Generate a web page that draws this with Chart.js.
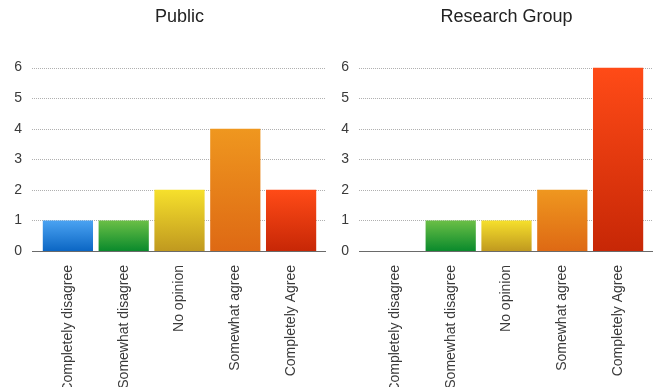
<!DOCTYPE html>
<html>
<head>
<meta charset="utf-8">
<script src="https://cdn.jsdelivr.net/npm/chart.js@4/dist/chart.umd.min.js"></script>
<style>
  body { margin: 0; background: #fff; }
  .wrap { display: flex; width: 654px; height: 387px; overflow: hidden; }
  canvas { display: block; }
</style>
</head>
<body>
<div class="wrap">
  <canvas id="publicChart" width="327" height="387"></canvas>
  <canvas id="groupChart" width="327" height="387"></canvas>
</div>
<script>
var categories = ['Completely disagree', 'Somewhat disagree', 'No opinion', 'Somewhat agree', 'Completely Agree'];
var publicCounts = [1, 1, 2, 4, 2];
var groupCounts = [0, 1, 1, 2, 6];
var yMax = 6;

// top / bottom colour of each bar's gradient
var topColors = ['#4ba3f2', '#6bbf46', '#f6e02c', '#ef971f', '#ff4b17'];
var bottomColors = ['#0b66c4', '#0a8a2c', '#c0991f', '#de6914', '#c72706'];

var font = "'Liberation Sans', Arial, sans-serif";

function barFill(c) {
  var chart = c.chart;
  var i = c.dataIndex;
  if (!chart.chartArea || c.raw === undefined) return topColors[i];
  var y = chart.scales.y;
  var y0 = y.getPixelForValue(0);
  var y1 = y.getPixelForValue(c.raw);
  if (y0 === y1) return topColors[i];
  var g = chart.ctx.createLinearGradient(0, y1, 0, y0);
  g.addColorStop(0, topColors[i]);
  g.addColorStop(1, bottomColors[i]);
  return g;
}

// dotted grid lines and base line that run a little past the bars
var gridLines = {
  id: 'gridLines',
  beforeDatasetsDraw: function(chart) {
    var ctx = chart.ctx, area = chart.chartArea, y = chart.scales.y;
    ctx.save();
    ctx.strokeStyle = '#b0b0b0';
    ctx.lineWidth = 1;
    ctx.setLineDash([1, 1]);
    y.ticks.forEach(function(t) {
      if (t.value === 0) return;
      var py = Math.round(y.getPixelForValue(t.value)) + 0.5;
      ctx.beginPath();
      ctx.moveTo(area.left - 8, py);
      ctx.lineTo(area.right + 7, py);
      ctx.stroke();
    });
    ctx.restore();
  },
  afterDatasetsDraw: function(chart) {
    var ctx = chart.ctx, area = chart.chartArea, y = chart.scales.y;
    var py = Math.round(y.getPixelForValue(0)) + 0.5;
    ctx.save();
    ctx.strokeStyle = '#6a6a6a';
    ctx.lineWidth = 1;
    ctx.beginPath();
    ctx.moveTo(area.left - 8, py);
    ctx.lineTo(area.right + 7, py);
    ctx.stroke();
    ctx.restore();
  }
};

function makeChart(id, title, values) {
  return new Chart(document.getElementById(id), {
    type: 'bar',
    data: {
      labels: categories,
      datasets: [{
        data: values,
        backgroundColor: barFill,
        borderWidth: 0,
        barPercentage: 0.9,
        categoryPercentage: 1
      }]
    },
    options: {
      responsive: false,
      animation: false,
      layout: { padding: { left: 0, right: 8, top: 0, bottom: 0 } },
      plugins: {
        legend: { display: false },
        tooltip: { enabled: false },
        title: {
          display: true,
          text: title,
          fullSize: false,
          color: '#222',
          font: { family: font, size: 18, weight: 'normal' },
          padding: { top: 6, bottom: 40 }
        }
      },
      scales: {
        x: {
          grid: { display: false },
          border: { display: false },
          ticks: {
            color: '#3a3a3a',
            font: { family: font, size: 14 },
            minRotation: 90,
            maxRotation: 90,
            autoSkip: false,
            padding: 6
          },
          afterFit: function(s) { s.height = 136; }
        },
        y: {
          min: 0,
          max: yMax,
          grid: { display: false },
          border: { display: false },
          ticks: {
            stepSize: 1,
            color: '#3a3a3a',
            font: { family: font, size: 14 },
            padding: 10
          },
          afterFit: function(s) { s.width = 40; }
        }
      }
    },
    plugins: [gridLines]
  });
}

makeChart('publicChart', 'Public', publicCounts);
makeChart('groupChart', 'Research Group', groupCounts);
</script>
</body>
</html>
